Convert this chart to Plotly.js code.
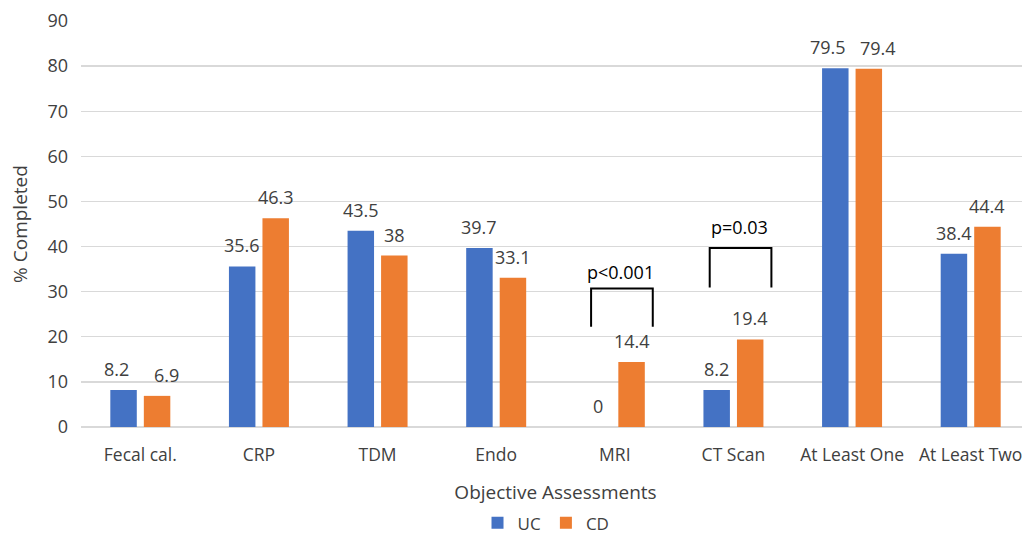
<!DOCTYPE html>
<html>
<head>
<meta charset="utf-8">
<script src="https://cdn.plot.ly/plotly-3.0.1.min.js"></script>
<style>
html,body{margin:0;padding:0;overflow:hidden;background:#fff;width:1022px;height:534px;}
#chart{width:1062px;height:534px;}
</style>
</head>
<body>
<div id="chart"></div>
<script>
const categories = ["Fecal cal.", "CRP", "TDM", "Endo", "MRI", "CT Scan", "At Least One", "At Least Two"];
const ucValues = [8.2, 35.6, 43.5, 39.7, 0, 8.2, 79.5, 38.4];
const cdValues = [6.9, 46.3, 38, 33.1, 14.4, 19.4, 79.4, 44.4];
const seriesNames = ["UC", "CD"];
const pLabels = ["p<0.001", "p=0.03"];
const pCategories = ["MRI", "CT Scan"];
const pBracketTop = [30.7, 39.7];
const pBracketBottom = [22.2, 30.9];
const pTextY = [34.4, 44.4];

const FONT = "Open Sans, Noto Sans, sans-serif";
const TXT = "#404040";
const bargap = 0.435, bargroupgap = 0.21;
const slot = (1 - bargap) / 2;

const traces = [
  {type: "bar", name: seriesNames[0], x: categories, y: ucValues, marker: {color: "#4472C4"}},
  {type: "bar", name: seriesNames[1], x: categories, y: cdValues, marker: {color: "#ED7D31"}}
];

const annotations = [];
[ucValues, cdValues].forEach((vals, s) => {
  const off = (s === 0 ? -1 : 1) * slot / 2;
  vals.forEach((v, i) => {
    // nudge apart labels that would collide (as the original did)
    const close = Math.abs(ucValues[i] - cdValues[i]) < 3 && String(v).length > 2;
    annotations.push({x: i + off, y: v, xref: "x", yref: "y", text: String(v), showarrow: false,
      yshift: 21, xshift: close ? (s === 0 ? -7 : 9) : 0,
      font: {family: FONT, size: 18, color: TXT}});
  });
});

const shapes = [];
pCategories.forEach((c, k) => {
  const i = categories.indexOf(c);
  const x0 = i - 0.2, x1 = i + 0.32;
  shapes.push({type: "path", xref: "x", yref: "y",
    path: `M ${x0} ${pBracketBottom[k]} L ${x0} ${pBracketTop[k]} L ${x1} ${pBracketTop[k]} L ${x1} ${pBracketBottom[k]}`,
    line: {color: "#000", width: 2}});
  annotations.push({x: i + 0.05, y: pTextY[k], xref: "x", yref: "y", text: pLabels[k], showarrow: false,
    font: {family: FONT, size: 18, color: "#000"}});
});

const layout = {
  width: 1062, height: 534,
  margin: {l: 80.5, r: 32, t: 21, b: 107},
  paper_bgcolor: "#fff", plot_bgcolor: "#fff",
  barmode: "group", bargap: bargap, bargroupgap: bargroupgap,
  font: {family: FONT, color: TXT, size: 16},
  showlegend: true,
  legend: {orientation: "h", x: 0.49, xanchor: "center", yref: "container", y: 0.02, yanchor: "middle",
    font: {family: FONT, size: 17, color: TXT}, itemwidth: 30, traceorder: "normal"},
  xaxis: {type: "category", showgrid: false, zeroline: false, showline: false, ticks: "", automargin: false,
    tickfont: {family: FONT, size: 17.5, color: TXT}, ticklabelstandoff: 15,
    title: {text: "Objective Assessments", font: {family: FONT, size: 19, color: TXT}, standoff: 23}},
  yaxis: {range: [0, 90], dtick: 10, showgrid: true, gridcolor: "#d9d9d9", gridwidth: 1.3, automargin: false,
    zeroline: true, zerolinecolor: "#d9d9d9", zerolinewidth: 1.3, showline: false, ticks: "",
    tickfont: {family: FONT, size: 18, color: TXT}, ticklabelstandoff: 12,
    title: {text: "% Completed", font: {family: FONT, size: 19, color: TXT}, standoff: 14}},
  annotations: annotations,
  shapes: shapes
};

Plotly.newPlot("chart", traces, layout, {displayModeBar: false, staticPlot: true});
</script>
</body>
</html>
